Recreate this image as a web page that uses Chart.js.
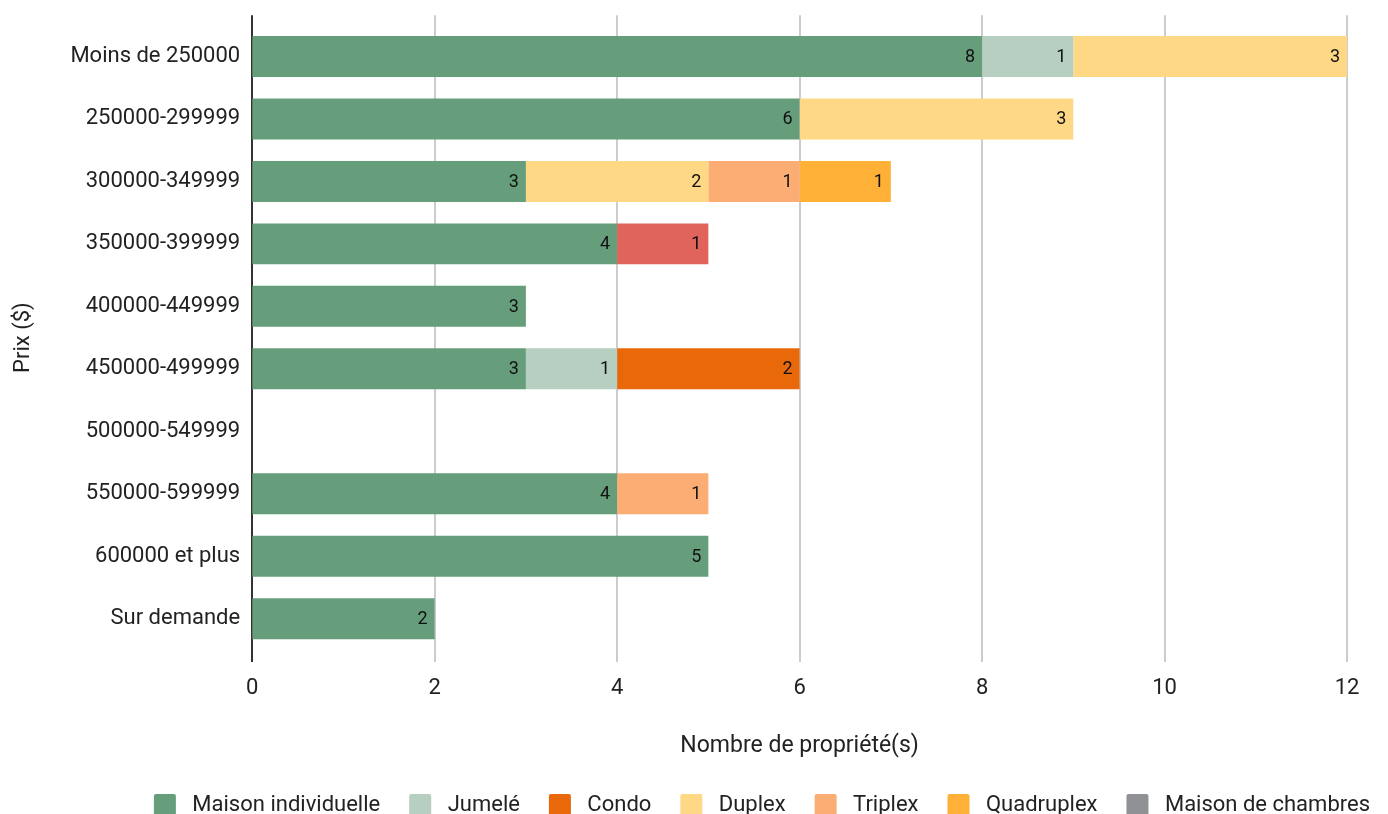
<!DOCTYPE html>
<html>
<head>
<meta charset="utf-8">
<script src="https://cdn.jsdelivr.net/npm/chart.js@4"></script>
<style>
  html, body { margin: 0; padding: 0; background: #fff; overflow: hidden; }
  #wrap { width: 1388px; height: 814px; }
  canvas { display: block; }
</style>
</head>
<body>
<div id="wrap"><canvas id="prixChart"></canvas></div>
<script>
var categories = ['Moins de 250000', '250000-299999', '300000-349999', '350000-399999',
  '400000-449999', '450000-499999', '500000-549999', '550000-599999', '600000 et plus', 'Sur demande'];

var maisonIndividuelle = [8, 6, 3, 4, 3, 3, 0, 4, 5, 2];
var jumele            = [1, 0, 0, 0, 0, 1, 0, 0, 0, 0];
var condo             = [0, 0, 0, 0, 0, 2, 0, 0, 0, 0];
var duplex            = [3, 3, 2, 0, 0, 0, 0, 0, 0, 0];
var triplex           = [0, 0, 1, 0, 0, 0, 0, 1, 0, 0];
var quadruplex        = [0, 0, 1, 0, 0, 0, 0, 0, 0, 0];
var maisonChambres    = [0, 0, 0, 0, 0, 0, 0, 0, 0, 0];
var autre             = [0, 0, 0, 1, 0, 0, 0, 0, 0, 0];

var xTicks = [0, 2, 4, 6, 8, 10, 12];

Chart.defaults.font.family = 'Roboto, "Noto Sans", sans-serif';
Chart.defaults.color = '#222';

function serie(label, data, color, legend) {
  return {
    label: label,
    data: data.map(function (v) { return v === 0 ? null : v; }),
    backgroundColor: color,
    borderWidth: 0,
    barPercentage: 0.8,
    categoryPercentage: 0.82,
    showInLegend: legend
  };
}

// vertical grid + zero line, a bit taller than the plot area
var gridLines = {
  id: 'gridLines',
  beforeDatasetsDraw: function (chart) {
    var ctx = chart.ctx, x = chart.scales.x, area = chart.chartArea;
    ctx.save();
    xTicks.forEach(function (v) {
      var px = Math.round(x.getPixelForValue(v));
      ctx.strokeStyle = v === 0 ? '#333' : '#cccccc';
      ctx.lineWidth = 2;
      ctx.beginPath();
      ctx.moveTo(px, area.top - 10);
      ctx.lineTo(px, area.bottom + 12);
      ctx.stroke();
    });
    ctx.restore();
  }
};

// values written inside the end of each segment
var segmentValues = {
  id: 'segmentValues',
  afterDatasetsDraw: function (chart) {
    var ctx = chart.ctx;
    ctx.save();
    ctx.font = '18px Roboto, sans-serif';
    ctx.fillStyle = '#111';
    ctx.textAlign = 'right';
    ctx.textBaseline = 'middle';
    chart.data.datasets.forEach(function (ds, i) {
      var meta = chart.getDatasetMeta(i);
      meta.data.forEach(function (bar, j) {
        var v = ds.data[j];
        if (!v) return;
        ctx.fillText(String(v), bar.x - 7, bar.y + 1);
      });
    });
    ctx.restore();
  }
};

new Chart(document.getElementById('prixChart'), {
  type: 'bar',
  data: {
    labels: categories,
    datasets: [
      serie('Maison individuelle', maisonIndividuelle, '#669e7c', true),
      serie('Jumelé', jumele, '#b6cfc0', true),
      serie('Condo', condo, '#e8680a', true),
      serie('Duplex', duplex, '#ffd885', true),
      serie('Triplex', triplex, '#fcad73', true),
      serie('Quadruplex', quadruplex, '#ffb036', true),
      serie('Maison de chambres', maisonChambres, '#909194', true),
      serie('Autre', autre, '#e0635c', false)
    ]
  },
  options: {
    indexAxis: 'y',
    responsive: true,
    maintainAspectRatio: false,
    animation: false,
    layout: { padding: { left: 10, right: -11, top: 24, bottom: -12 } },
    scales: {
      x: {
        stacked: true,
        min: 0,
        max: 12,
        afterBuildTicks: function (axis) {
          axis.ticks = xTicks.map(function (v) { return { value: v }; });
        },
        afterFit: function (axis) {
          axis.paddingRight = 41;
        },
        grid: { display: false, drawTicks: false },
        border: { display: false },
        ticks: { font: { size: 22 }, padding: 25, color: '#222' },
        title: { display: true, text: 'Nombre de propriété(s)', font: { size: 23 }, padding: { top: 6, bottom: 5 } }
      },
      y: {
        stacked: true,
        grid: { display: false, drawTicks: false },
        border: { display: false },
        ticks: { font: { size: 22 }, padding: 12, color: '#222' },
        title: { display: true, text: 'Prix ($)', font: { size: 22 }, padding: { top: 0, bottom: 22 } }
      }
    },
    plugins: {
      legend: {
        position: 'bottom',
        align: 'end',
        labels: {
          font: { size: 22 },
          boxWidth: 22,
          boxHeight: 22,
          padding: 29,
          useBorderRadius: true,
          borderRadius: 2,
          generateLabels: function (chart) {
            var items = Chart.defaults.plugins.legend.labels.generateLabels(chart);
            items.forEach(function (it) { it.text = ' ' + it.text; });
            return items;
          },
          filter: function (item, data) {
            return data.datasets[item.datasetIndex].showInLegend;
          }
        }
      },
      tooltip: { enabled: false }
    }
  },
  plugins: [gridLines, segmentValues]
});
</script>
</body>
</html>
